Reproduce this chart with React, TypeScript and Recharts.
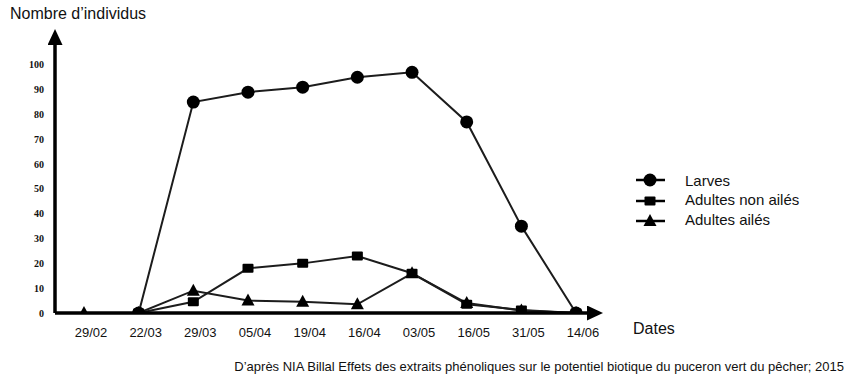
import React from 'react';
import { LineChart, Line, XAxis, YAxis } from 'recharts';

const dates = ['29/02', '22/03', '29/03', '05/04', '19/04', '16/04', '03/05', '16/05', '31/05', '14/06'];
const larves = [null, 0, 85, 89, 91, 95, 97, 77, 35, 0];
const adultesNonAiles = [null, 0, 4.5, 18, 20, 23, 16, 3.5, 1.2, 0];
const adultesAiles = [0, 0, 9, 5, 4.5, 3.5, 16, 4, 1, 0];
const yTicks = [0, 10, 20, 30, 40, 50, 60, 70, 80, 90, 100];

const data = dates.map((date, i) => ({
  i,
  date,
  larves: larves[i],
  nonAiles: adultesNonAiles[i],
  ailes: adultesAiles[i],
}));

const SERIES = [
  { key: 'larves', name: 'Larves', shape: 'circle' },
  { key: 'nonAiles', name: 'Adultes non ailés', shape: 'square' },
  { key: 'ailes', name: 'Adultes ailés', shape: 'triangle' },
];

const INK = '#111';
const SANS = '"Liberation Sans", Arial, sans-serif';

function Marker({ cx, cy, shape }: { cx: number; cy: number; shape: string }) {
  if (shape === 'circle') return <circle cx={cx} cy={cy} r={6.5} fill="#000" />;
  if (shape === 'square')
    return <rect x={cx - 5.5} y={cy - 4.5} width={11} height={9} rx={1} fill="#000" />;
  return <path d={`M${cx},${cy - 7} L${cx + 6.5},${cy + 5} L${cx - 6.5},${cy + 5} Z`} fill="#000" />;
}

function makeDot(shape: string) {
  return (props: any) => {
    const { cx, cy, key, index } = props;
    if (cy == null || isNaN(cy)) return <g key={key ?? index} />;
    return <Marker key={key ?? index} cx={cx} cy={cy} shape={shape} />;
  };
}

function LegendBox() {
  return (
    <div style={{ fontFamily: SANS, fontSize: 15, color: INK }}>
      {SERIES.map((s, i) => (
        <div key={s.key} style={{ display: 'flex', alignItems: 'center', height: 20.5 }}>
          <svg width={32} height={16} style={{ marginRight: 18 }}>
            <line x1={1} y1={8} x2={30} y2={8} stroke="#000" strokeWidth={2.5} />
            <Marker cx={15} cy={8} shape={s.shape} />
          </svg>
          <span style={{ marginTop: i === 0 ? 0 : -3 }}>{s.name}</span>
        </div>
      ))}
    </div>
  );
}

export default function App() {
  return (
    <div style={{ position: 'absolute', left: 0, top: 0, width: 852, height: 379, background: '#fff' }}>
      <LineChart
        width={852}
        height={379}
        data={data}
        margin={{ top: 45, right: 265, bottom: 36, left: 15 }}
      >
        <defs>
          <marker
            id="arrow"
            markerUnits="userSpaceOnUse"
            markerWidth={16}
            markerHeight={15}
            refX={0}
            refY={7.5}
            orient="auto-start-reverse"
          >
            <path d="M0,0 L16,7.5 L0,15 Z" fill="#000" />
          </marker>
        </defs>
        <XAxis
          type="number"
          dataKey="i"
          domain={[-0.53, 9.2]}
          ticks={[0, 1, 2, 3, 4, 5, 6, 7, 8, 9]}
          interval={0}
          allowDataOverflow
          tickFormatter={(v: number) => dates[v]}
          tickLine={false}
          tickSize={0}
          tickMargin={15}
          height={30}
          axisLine={{ stroke: '#000', strokeWidth: 3.5, markerEnd: 'url(#arrow)' }}
          tick={{ fontSize: 13, fill: INK, fontFamily: SANS, dx: 7 }}
        />
        <YAxis
          type="number"
          domain={[0, 108]}
          ticks={yTicks}
          interval={0}
          allowDataOverflow
          width={40}
          tickLine={false}
          tickSize={0}
          tickMargin={11}
          axisLine={{ stroke: '#000', strokeWidth: 3.5, markerStart: 'url(#arrow)' }}
          tick={{ fontSize: 10, fill: INK, fontWeight: 'bold', fontFamily: '"Liberation Serif", serif' }}
        />
        {SERIES.map((s) => (
          <Line
            key={s.key}
            type="linear"
            dataKey={s.key}
            name={s.name}
            stroke="#1c1c1c"
            strokeWidth={2}
            dot={makeDot(s.shape)}
            activeDot={false}
            isAnimationActive={false}
          />
        ))}
      </LineChart>
      <div style={{ position: 'absolute', left: 635, top: 170 }}>
        <LegendBox />
      </div>
      <div style={{ position: 'absolute', left: 10, top: 5, fontFamily: SANS, fontSize: 16, color: INK }}>
        Nombre d’individus
      </div>
      <div style={{ position: 'absolute', left: 633, top: 320, fontFamily: SANS, fontSize: 16, color: INK }}>
        Dates
      </div>
      <div
        style={{
          position: 'absolute',
          right: 8,
          top: 359,
          fontFamily: SANS,
          fontSize: 13,
          color: INK,
          whiteSpace: 'nowrap',
        }}
      >
        D’après NIA Billal Effets des extraits phénoliques sur le potentiel biotique du puceron vert du pêcher; 2015
      </div>
    </div>
  );
}
